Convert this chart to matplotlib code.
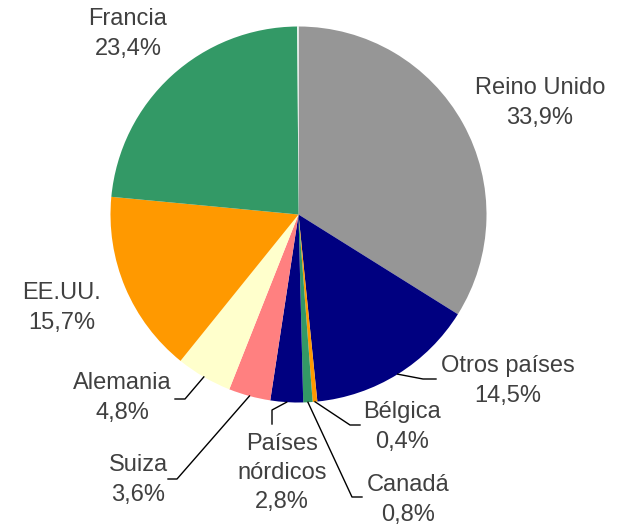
import matplotlib
matplotlib.use("Agg")
import matplotlib.pyplot as plt
import numpy as np

labels = ["Reino Unido", "Otros países", "Bélgica", "Canadá", "Países\nnórdicos",
          "Suiza", "Alemania", "EE.UU.", "Francia", ""]
values = [33.9, 14.5, 0.4, 0.8, 2.8, 3.6, 4.8, 15.7, 23.4, 0.1]
pct_text = ["33,9%", "14,5%", "0,4%", "0,8%", "2,8%", "3,6%", "4,8%", "15,7%", "23,4%", ""]
colors = ["#969696", "#000080", "#FF9900", "#339966", "#000080",
          "#FF8080", "#FFFFCC", "#FF9900", "#339966", "#FFFFFF"]

W, H = 623, 527
fig = plt.figure(figsize=(W / 100, H / 100), dpi=100)
ax = fig.add_axes([0, 0, 1, 1])

cx, cy, R = 298.5, H - 214.5, 188
wedges, _ = ax.pie(values, colors=colors, startangle=90, counterclock=False,
                   center=(cx, cy), radius=R, frame=True,
                   wedgeprops=dict(linewidth=0))
ax.set_xlim(0, W)
ax.set_ylim(0, H)
ax.axis("off")

txtcol = "#404040"
font = dict(family=["Liberation Sans", "DejaVu Sans"], fontsize=17, color=txtcol)

# label centre positions in pixel coords (top-left origin) and leader elbows
layout = {
    0: dict(pos=(540, 103), leader=None),
    1: dict(pos=(508, 381), leader=[(423, 379), (436, 379)]),
    2: dict(pos=(402, 427), leader=[(350, 425), (360, 425)]),
    3: dict(pos=(408, 500), leader=[(352, 497), (362, 497)]),
    4: dict(pos=(282, 473), leader=[(272, 410), (272, 424)]),
    5: dict(pos=(138, 480), leader=[(177, 479), (168, 479)]),
    6: dict(pos=(122, 398), leader=[(185, 399), (175, 399)]),
    7: dict(pos=(62, 308), leader=None),
    8: dict(pos=(128, 34), leader=None),
}

for i, w in enumerate(wedges):
    if i not in layout:
        continue
    lay = layout[i]
    px, py = lay["pos"]
    ax.text(px, H - py, labels[i] + "\n" + pct_text[i], ha="center", va="center",
            linespacing=1.42, **font)
    if lay["leader"]:
        ang = np.deg2rad((w.theta1 + w.theta2) / 2)
        sx, sy = cx + R * np.cos(ang), cy + R * np.sin(ang)
        xs = [sx] + [p[0] for p in lay["leader"]]
        ys = [sy] + [H - p[1] for p in lay["leader"]]
        ax.plot(xs, ys, color="black", lw=1)

fig.savefig("out.png", dpi=100)
